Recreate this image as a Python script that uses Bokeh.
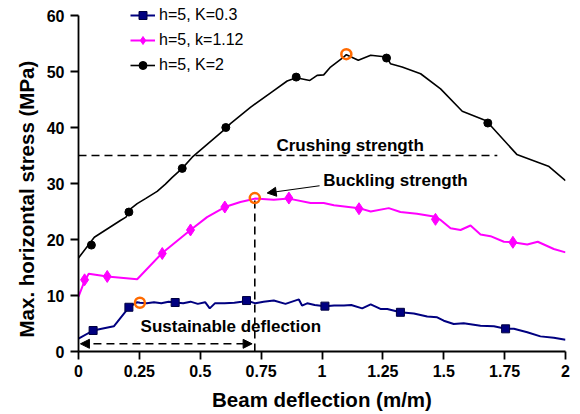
from bokeh.plotting import figure
from bokeh.models import (Range1d, FixedTicker, Legend, LegendItem, Label, Arrow,
                          NormalHead, Title)
from bokeh.embed import file_html
from bokeh.resources import INLINE

# ---------------- data ----------------
# h=5, K=0.3 (navy)
k03_x = [0, 0.06, 0.145, 0.207, 0.241, 0.252, 0.28, 0.31, 0.34, 0.37, 0.397, 0.43, 0.46, 0.49,
         0.52, 0.539, 0.56, 0.6, 0.64, 0.67, 0.69, 0.727, 0.76, 0.802, 0.85, 0.905, 0.918, 0.939,
         0.97, 1.012, 1.05, 1.09, 1.12, 1.165, 1.2, 1.24, 1.268, 1.322, 1.377, 1.432, 1.473, 1.5,
         1.541, 1.582, 1.651, 1.706, 1.754, 1.788, 1.843, 1.897, 1.952, 2.0]
k03_y = [2.3, 3.75, 4.5, 7.9, 8.8, 8.7, 8.6, 8.8, 8.6, 8.9, 8.75, 8.6, 8.9, 8.5,
         8.8, 7.7, 8.6, 8.6, 8.7, 8.9, 9.1, 8.6, 8.9, 9.1, 8.5, 9.3, 8.2, 8.6,
         8.3, 8.1, 8.2, 8.2, 8.3, 7.7, 8.4, 7.6, 7.6, 7.0, 6.8, 6.25, 6.1, 5.5,
         4.9, 5.05, 4.6, 4.5, 4.05, 4.05, 3.45, 2.7, 2.45, 2.1]
k03_mx = [0.06, 0.207, 0.397, 0.69, 1.012, 1.322, 1.754]
k03_my = [3.75, 7.9, 8.75, 9.1, 8.1, 7.0, 4.05]

# h=5, k=1.12 (magenta)
k112_x = [0, 0.025, 0.042, 0.118, 0.241, 0.344, 0.46, 0.528, 0.601, 0.665, 0.706, 0.724, 0.802,
          0.864, 0.953, 1.007, 1.049, 1.152, 1.2, 1.274, 1.322, 1.39, 1.459, 1.487, 1.528, 1.569,
          1.61, 1.651, 1.692, 1.747, 1.784, 1.843, 1.886, 1.952, 2.0]
k112_y = [9.8, 12.6, 13.9, 13.4, 12.9, 17.6, 21.7, 24.0, 25.8, 26.7, 27.1, 27.3, 27.1,
          27.3, 26.5, 26.5, 26.1, 25.6, 25.0, 25.6, 24.9, 24.6, 24.1, 23.5, 22.0, 21.7,
          22.5, 20.9, 20.6, 19.6, 19.5, 19.1, 19.6, 18.3, 17.7]
k112_mx = [0.025, 0.118, 0.344, 0.46, 0.601, 0.864, 1.152, 1.466, 1.784]
k112_my = [12.8, 13.4, 17.5, 21.7, 25.8, 27.4, 25.5, 23.6, 19.5]

# h=5, K=2 (black)
k2_x = [0, 0.065, 0.172, 0.195, 0.215, 0.241, 0.275, 0.323, 0.357, 0.385, 0.426, 0.467, 0.604,
        0.624, 0.706, 0.802, 0.857, 0.894, 0.95, 0.98, 1.007, 1.035, 1.09, 1.10, 1.149, 1.2,
        1.265, 1.281, 1.329, 1.405, 1.487, 1.576, 1.664, 1.681, 1.80, 1.93, 2.0]
k2_y = [16.7, 20.4, 23.4, 24.0, 25.5, 26.4, 27.3, 28.6, 29.9, 31.1, 32.7, 34.7, 39.8,
        40.7, 43.6, 46.6, 48.3, 48.9, 48.4, 49.3, 49.4, 50.8, 52.6, 53.0, 52.0, 52.9,
        52.6, 51.4, 50.8, 49.6, 46.9, 42.9, 41.4, 40.9, 35.2, 33.1, 30.5]
k2_mx = [0.053, 0.207, 0.426, 0.605, 0.894, 1.265, 1.681]
k2_my = [19.0, 24.9, 32.7, 40.0, 49.0, 52.4, 40.8]

# highlighted points (orange circles)
hi_x = [0.252, 0.724, 1.10]
hi_y = [8.7, 27.4, 53.1]

# reference values
crushing_strength = 35
crushing_x = [0, 1.72]
buckling_x = 0.724
buckling_y = 27.4
sustain_y = 1.375
sustain_x = [0.008, 0.713]

x_ticks = [0, 0.25, 0.5, 0.75, 1, 1.25, 1.5, 1.75, 2]
x_tick_labels = ["0", "0.25", "0.5", "0.75", "1", "1.25", "1.5", "1.75", "2"]
y_ticks = [0, 10, 20, 30, 40, 50, 60]

FONT = "Liberation Sans"

p = figure(width=580, height=414, output_backend="svg", toolbar_location=None,
           x_range=Range1d(0, 2), y_range=Range1d(0, 62.5),
           min_border_left=78, min_border_right=15, min_border_top=1, min_border_bottom=63)
p.outline_line_color = None
p.xgrid.visible = False
p.ygrid.visible = False
p.background_fill_color = "white"

for ax in (p.xaxis[0], p.yaxis[0]):
    ax.axis_line_width = 1.8
    ax.axis_line_color = "black"
    ax.major_tick_line_width = 1.8
    ax.major_tick_in = 0
    ax.major_tick_out = 8
    ax.minor_tick_line_color = None
    ax.major_label_text_font = FONT
    ax.major_label_text_font_size = "16px"
    ax.major_label_text_font_style = "bold"
    ax.major_label_text_color = "black"
    ax.axis_label_text_font = FONT
    ax.axis_label_text_font_size = "20.5px"
    ax.axis_label_text_font_style = "bold"
    ax.axis_label_text_color = "black"

p.xaxis.ticker = FixedTicker(ticks=x_ticks)
p.xaxis.major_label_overrides = {t: l for t, l in zip(x_ticks, x_tick_labels)}
p.yaxis.ticker = FixedTicker(ticks=y_ticks)
p.yaxis.bounds = (0, 60)
p.xaxis.axis_label = "Beam deflection (m/m)"
p.xaxis.major_label_standoff = 5
p.yaxis.major_label_standoff = 6
p.xaxis.axis_label_standoff = 8

# y-axis title as a side title (lets it be shifted along the axis)
p.add_layout(Title(text="Max. horizontal stress  (MPa)", align="left", offset=14,
                   standoff=11, text_font=FONT, text_font_size="20.5px",
                   text_font_style="bold", text_color="black"), "left")

# reference dashed lines
p.line(crushing_x, [crushing_strength, crushing_strength], line_color="black",
       line_width=1.6, line_dash="8 5")
p.line([buckling_x, buckling_x], [0, buckling_y], line_color="black",
       line_width=1.6, line_dash="8 5")

# series
navy = "#000080"
mag = "#FF00FF"
l1 = p.line(k03_x, k03_y, line_color=navy, line_width=2)
m1 = p.scatter(k03_mx, k03_my, marker="square", size=8, fill_color=navy, line_color="#000040")
l2 = p.line(k112_x, k112_y, line_color=mag, line_width=2)
m2 = p.scatter(k112_mx, k112_my, marker="diamond", size=12, fill_color=mag, line_color=mag)
l3 = p.line(k2_x, k2_y, line_color="black", line_width=1.6)
m3 = p.scatter(k2_mx, k2_my, marker="circle", size=8, fill_color="black", line_color="black")

p.scatter(hi_x, hi_y, marker="circle", size=10, fill_color="white", fill_alpha=0,
          line_color="#FF6A00", line_width=2.5)

# arrows
p.add_layout(Arrow(end=NormalHead(size=9, fill_color="black", line_color="black"),
                   x_start=0.99, y_start=29.6, x_end=0.775, y_end=28.3,
                   line_color="black", line_width=1.2))
p.add_layout(Arrow(start=NormalHead(size=9, fill_color="black", line_color="black"),
                   end=NormalHead(size=9, fill_color="black", line_color="black"),
                   x_start=sustain_x[0], y_start=sustain_y, x_end=sustain_x[1], y_end=sustain_y,
                   line_color="black", line_width=1.6, line_dash="8 5"))

# text labels
def lab(x, y, t):
    p.add_layout(Label(x=x, y=y, text=t, text_font=FONT, text_font_size="17px",
                       text_font_style="bold", text_color="black",
                       text_baseline="middle", text_align="left"))

lab(0.813, 36.8, "Crushing strength")
lab(1.005, 30.6, "Buckling strength")
lab(0.255, 4.4, "Sustainable deflection")

legend = Legend(items=[
    LegendItem(label="h=5, K=0.3", renderers=[l1, m1]),
    LegendItem(label="h=5, k=1.12", renderers=[l2, m2]),
    LegendItem(label="h=5, K=2", renderers=[l3, m3]),
], location=(52, 276))
legend.background_fill_alpha = 0
legend.border_line_color = None
legend.padding = 0
legend.margin = 0
legend.spacing = 5
legend.glyph_width = 25
legend.glyph_height = 20
legend.label_height = 20
legend.label_standoff = 4
legend.label_text_font = FONT
legend.label_text_font_size = "16px"
legend.label_text_color = "black"
p.add_layout(legend, "center")

open("out.html", "w").write(file_html(p, INLINE))
